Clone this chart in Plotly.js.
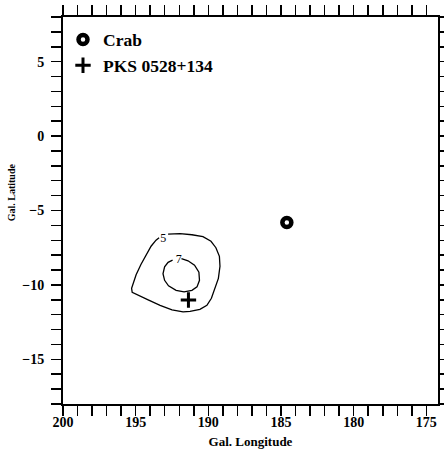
<!DOCTYPE html>
<html>
<head>
<meta charset="utf-8">
<script src="https://cdn.plot.ly/plotly-3.0.1.min.js"></script>
<style>html,body{margin:0;padding:0;background:#fff;}#chart{width:444px;height:452px;}</style>
</head>
<body>
<div id="chart"></div>
<script>
// Contour level 5 (outer), traced in galactic coordinates (deg)
const outerLon = [192.77,191.95,191.13,190.37,189.82,189.48,189.24,189.20,189.31,189.55,189.79,190.10,190.58,191.26,191.74,192.50,193.32,194.14,194.76,195.24,195.28,195.17,194.97,194.63,194.28,193.94,193.60,193.39];
const outerLat = [-6.59,-6.56,-6.63,-6.76,-7.07,-7.50,-8.08,-8.75,-9.56,-10.23,-10.90,-11.37,-11.64,-11.78,-11.81,-11.68,-11.37,-11.00,-10.73,-10.50,-10.23,-9.89,-9.32,-8.61,-7.94,-7.40,-6.99,-6.83];
// Contour level 7 (inner)
const innerLon = [191.85,191.40,190.95,190.65,190.61,190.78,191.13,191.67,192.22,192.74,193.01,193.12,193.01,192.77,192.46];
const innerLat = [-8.24,-8.38,-8.68,-9.15,-9.69,-10.13,-10.36,-10.46,-10.36,-10.06,-9.69,-9.25,-8.78,-8.48,-8.34];
// Contour labels
const contourLabels = ['5', '7'];
const labelLon = [193.10, 192.03];
const labelLat = [-6.91, -8.31];
// Sources
const sourceNames = ['Crab', 'PKS 0528+134'];
const sourceLon = [184.6, 191.37];
const sourceLat = [-5.8, -11.01];
// Axis titles
const xTitle = 'Gal. Longitude';
const yTitle = 'Gal. Latitude';

const serif = 'Liberation Serif, Times New Roman, serif';

const traces = [
  {x: outerLon, y: outerLat, mode: 'lines', line: {color: '#000', width: 1.3}, showlegend: false, hoverinfo: 'skip'},
  {x: innerLon, y: innerLat, mode: 'lines', line: {color: '#000', width: 1.3}, showlegend: false, hoverinfo: 'skip'},
  {x: labelLon, y: labelLat, mode: 'text', text: contourLabels, textfont: {family: serif, size: 12, color: '#000'}, showlegend: false, hoverinfo: 'skip'},
  {x: [sourceLon[0]], y: [sourceLat[0]], name: sourceNames[0], mode: 'markers',
   marker: {symbol: 'circle', size: 9, color: '#fff', line: {color: '#000', width: 4.5}}},
  {x: [sourceLon[1]], y: [sourceLat[1]], name: sourceNames[1], mode: 'markers',
   marker: {symbol: 'cross-thin', size: 11, color: '#000', line: {color: '#000', width: 3}}}
];

const tickFont = {family: serif, size: 14, color: '#000', weight: 'bold'};

const axisCommon = {
  showgrid: false, zeroline: false, showline: true, linecolor: '#000', linewidth: 2,
  mirror: 'ticks', ticks: 'outside', ticklen: 10, tickwidth: 1.5, tickcolor: '#000',
  tickfont: tickFont, tickprefix: '<b>', ticksuffix: '</b>',
  minor: {dtick: 1, ticks: 'outside', ticklen: 10, tickwidth: 1.5, tickcolor: '#000', showgrid: false}
};

const layout = {
  width: 444, height: 452,
  margin: {l: 63, r: 6, t: 17, b: 48},
  paper_bgcolor: '#fff', plot_bgcolor: '#fff',
  font: {family: serif, color: '#000'},
  xaxis: Object.assign({}, axisCommon, {
    range: [200, 174.2], tick0: 200, dtick: 5, ticklabelstandoff: -6,
    title: {text: xTitle, font: {family: serif, size: 13, weight: 'bold', color: '#000'}, standoff: 8}
  }),
  yaxis: Object.assign({}, axisCommon, {
    range: [-18, 8], tick0: 0, dtick: 5, ticklabelstandoff: 4
  }),
  legend: {x: 0.0, xanchor: 'left', y: 0.988, yanchor: 'top', bgcolor: 'rgba(0,0,0,0)',
    font: {family: serif, size: 17.5, weight: 'bold', color: '#000'}, tracegroupgap: 0},
  annotations: [
    {text: yTitle, xref: 'paper', yref: 'paper', x: -0.155, y: 0.548, showarrow: false, textangle: -90,
     font: {family: serif, size: 10, weight: 'bold', color: '#000'}}
  ]
};

Plotly.newPlot('chart', traces, layout, {displayModeBar: false, staticPlot: true});
</script>
</body>
</html>
